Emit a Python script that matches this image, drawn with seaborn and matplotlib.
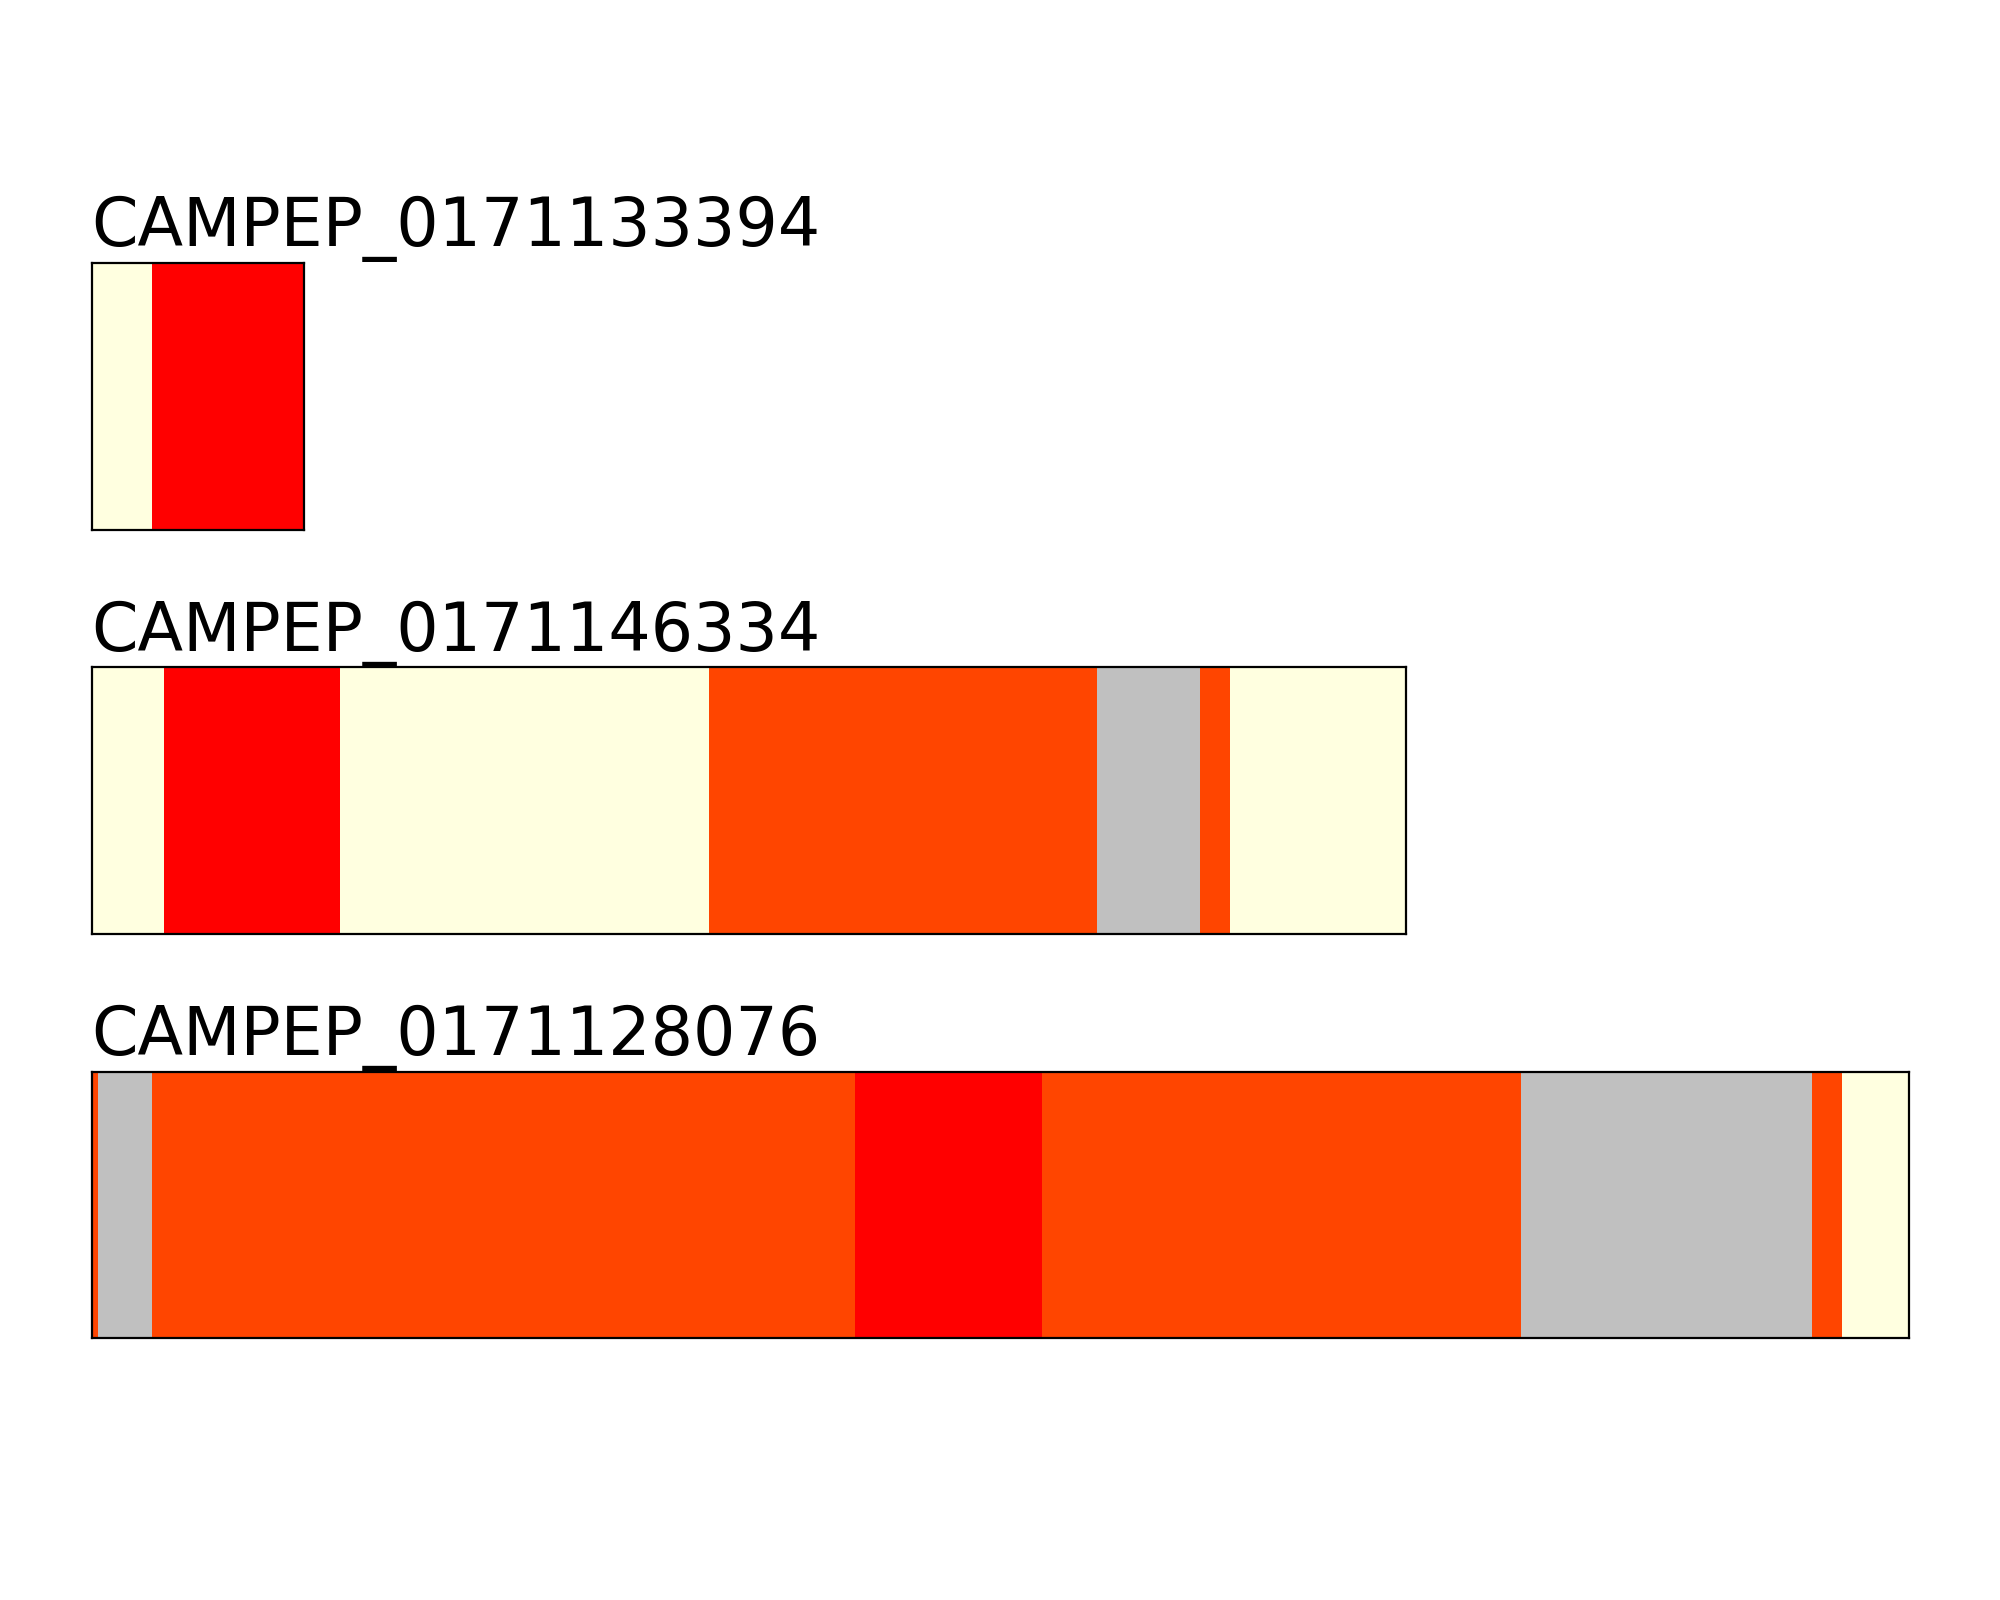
import numpy as np
import seaborn as sns
import matplotlib.pyplot as plt
from matplotlib.colors import ListedColormap

# peptide ids, top to bottom
peptides = ['CAMPEP_0171133394', 'CAMPEP_0171146334', 'CAMPEP_0171128076']

# region classes and run lengths (residues) along each sequence
seg_classes = [
    ['pale', 'red'],
    ['pale', 'red', 'pale', 'orange', 'grey', 'orange', 'pale'],
    ['orange', 'grey', 'orange', 'red', 'orange', 'grey', 'orange', 'pale'],
]
seg_lengths = [
    [10, 25],
    [12, 29, 61, 64, 17, 5, 29],
    [1, 9, 116, 31, 79, 48, 5, 11],
]

class_order = ['pale', 'red', 'orange', 'grey']
class_colors = ['#FFFFE0', '#FF0000', '#FF4500', '#C0C0C0']
cmap = ListedColormap(class_colors)

sns.set_style('white')
plt.rcParams['font.family'] = ['DejaVu Sans']
plt.rcParams['text.color'] = 'black'

fig, axes = plt.subplots(3, 1, figsize=(10, 8), dpi=200)
fig.subplots_adjust(left=0.0458, right=0.9543, top=0.8356, bottom=0.1635,
                    hspace=0.515)

totals = [sum(l) for l in seg_lengths]
longest = max(totals)
full_w = 0.9543 - 0.0458

for ax, name, classes, lengths, total in zip(axes, peptides, seg_classes,
                                             seg_lengths, totals):
    codes = np.repeat([class_order.index(c) for c in classes], lengths)
    sns.heatmap(codes[np.newaxis, :], ax=ax, cmap=cmap, vmin=-0.5, vmax=3.5,
                cbar=False, xticklabels=False, yticklabels=False)
    for s in ax.spines.values():
        s.set_visible(True)
        s.set_color('black')
        s.set_linewidth(0.8)
    ax.set_title(name, loc='left', fontsize=24, color='black')
    pos = ax.get_position()
    ax.set_position([pos.x0, pos.y0, full_w * total / longest, pos.height])

fig.savefig('out.png', dpi=200)
